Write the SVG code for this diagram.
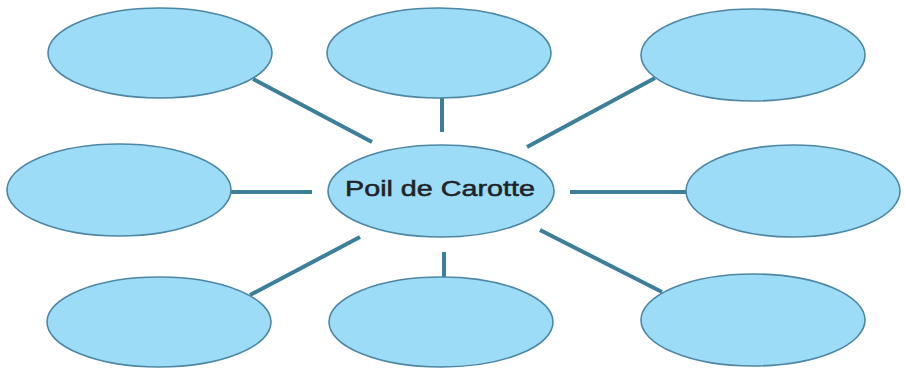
<svg xmlns="http://www.w3.org/2000/svg" width="905" height="368" viewBox="0 0 905 368">
<style>
.n{fill:#9ddcf6;stroke:#4d87a3;stroke-width:1.6}
.c line{stroke:#3d7f9b;stroke-width:4;stroke-linecap:butt}
.t{font-family:"Liberation Sans",Arial,sans-serif;font-size:22px;fill:#1f2328;stroke:#1f2328;stroke-width:0.5}
</style>
<rect width="905" height="368" fill="#ffffff"/>
<g id="connectors" class="c">
<line x1="253" y1="79" x2="372" y2="142"/>
<line x1="442" y1="98" x2="442" y2="132"/>
<line x1="655" y1="78" x2="527" y2="147"/>
<line x1="231" y1="192" x2="312" y2="192"/>
<line x1="570" y1="192" x2="686" y2="192"/>
<line x1="250" y1="295" x2="360" y2="237"/>
<line x1="444" y1="252" x2="444" y2="277"/>
<line x1="540" y1="230" x2="662" y2="292"/>
</g>
<g id="n-top-left"><ellipse class="n" cx="160" cy="53" rx="112" ry="45"/></g>
<g id="n-top-mid"><ellipse class="n" cx="439" cy="53" rx="112" ry="45"/></g>
<g id="n-top-right"><ellipse class="n" cx="753" cy="55" rx="112" ry="46"/></g>
<g id="n-mid-left"><ellipse class="n" cx="119" cy="190" rx="112" ry="46"/></g>
<g id="n-center"><ellipse class="n" cx="441" cy="191" rx="113" ry="46"/>
<text class="t" x="440" y="196" text-anchor="middle" textLength="190" lengthAdjust="spacingAndGlyphs">Poil de Carotte</text></g>
<g id="n-mid-right"><ellipse class="n" cx="793" cy="191" rx="107" ry="46"/></g>
<g id="n-bot-left"><ellipse class="n" cx="159" cy="322" rx="112" ry="45"/></g>
<g id="n-bot-mid"><ellipse class="n" cx="441" cy="322" rx="112" ry="45"/></g>
<g id="n-bot-right"><ellipse class="n" cx="753" cy="320" rx="112" ry="46"/></g>
</svg>
